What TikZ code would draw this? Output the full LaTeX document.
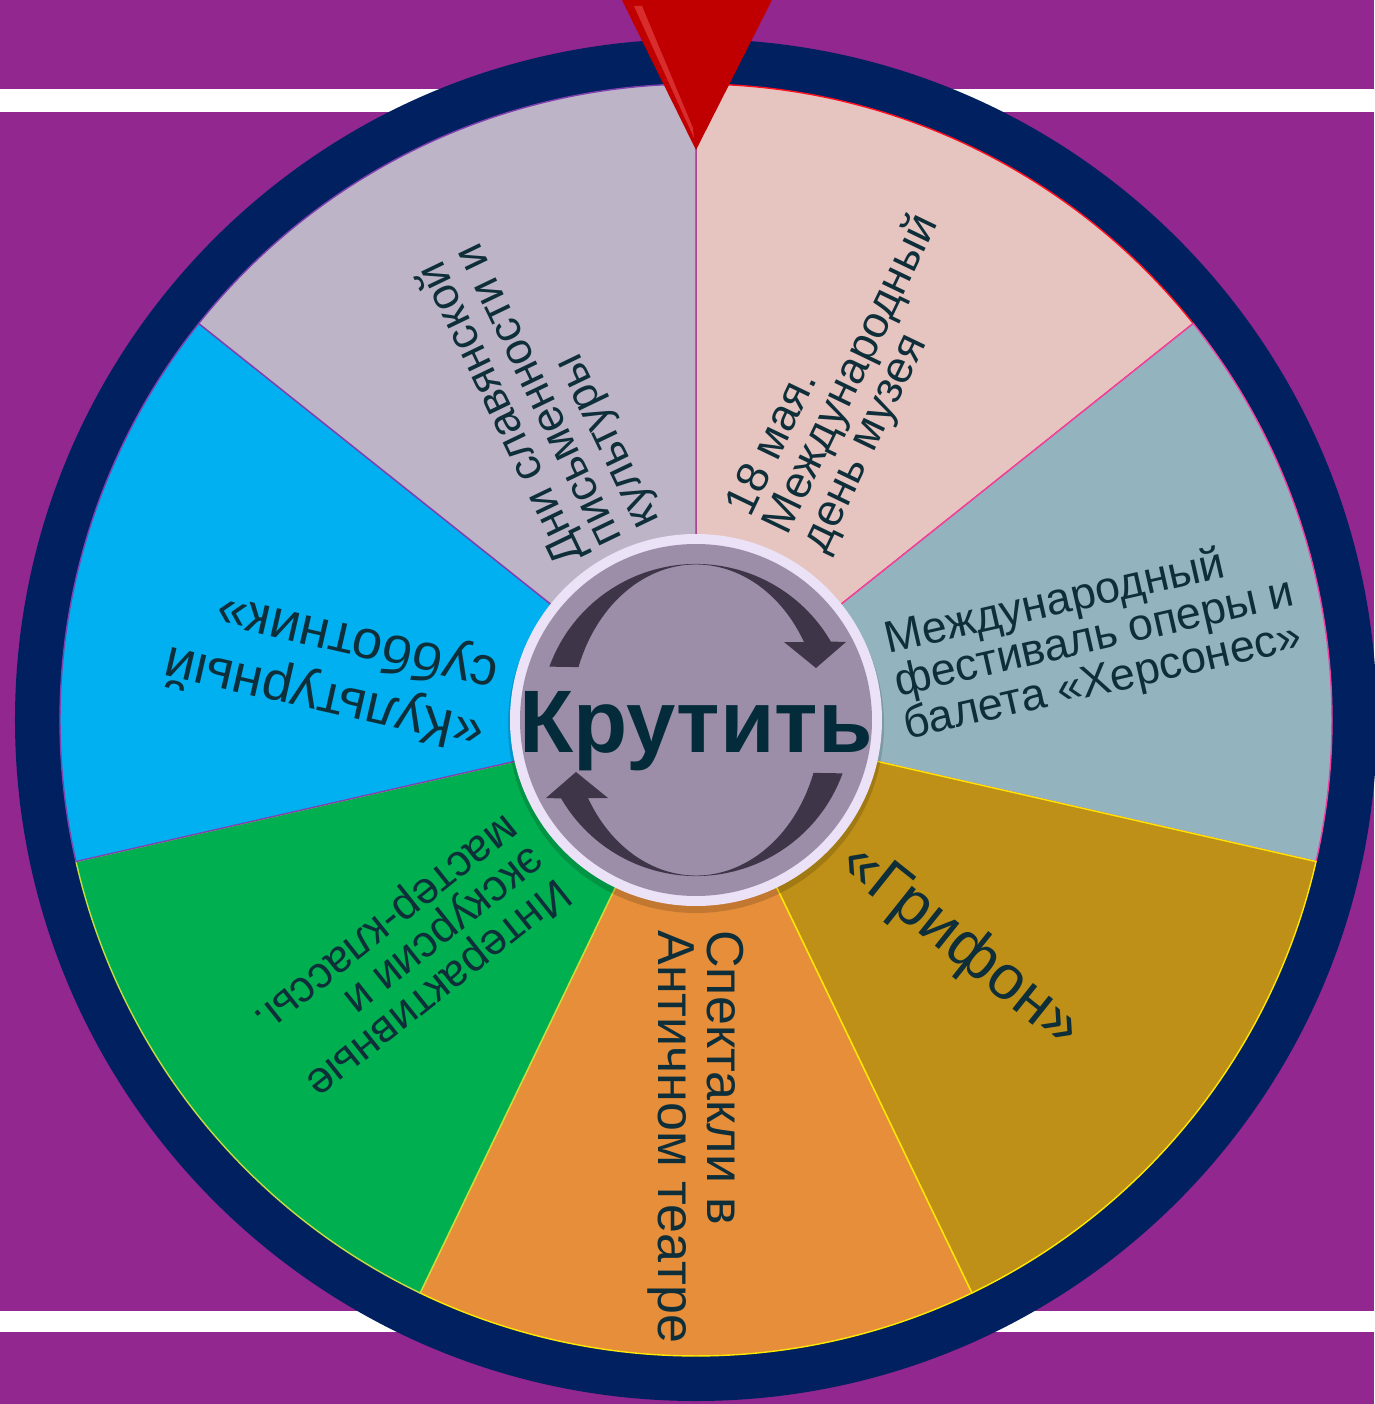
\documentclass[tikz,border=0pt]{standalone}
\usepackage{fontspec}
\setmainfont{Liberation Sans}
\usetikzlibrary{calc}

\definecolor{bgpurple}{HTML}{92278F}
\definecolor{rimnavy}{HTML}{002060}
\definecolor{segpink}{HTML}{E6C4C0}
\definecolor{segsteel}{HTML}{93B4BF}
\definecolor{seggold}{HTML}{BE9018}
\definecolor{segorange}{HTML}{E68E3A}
\definecolor{seggreen}{HTML}{00AF50}
\definecolor{segcyan}{HTML}{00B0F0}
\definecolor{seglilac}{HTML}{BDB5C7}
\definecolor{edgered}{HTML}{FF1020}
\definecolor{edgepink}{HTML}{F040A0}
\definecolor{edgeyellow}{HTML}{FFE800}
\definecolor{edgelime}{HTML}{C8DC40}
\definecolor{edgeviolet}{HTML}{8040B0}
\definecolor{hubfill}{HTML}{9C8EA8}
\definecolor{hubrim}{HTML}{ECE2F8}
\definecolor{arrowdark}{HTML}{3E3648}
\definecolor{labeltext}{HTML}{0E2F3A}
\definecolor{spintext}{HTML}{042B3A}
\definecolor{pointerred}{HTML}{C00000}
\definecolor{pointerhi}{HTML}{D92C2C}

\begin{document}
\begin{tikzpicture}[x=0.02cm, y=0.02cm,
    sector/.style={line width=0.8pt},
    segtext/.style={text=labeltext, align=left, inner sep=0pt, anchor=west,
        font=\fontsize{25.5}{23.6}\selectfont},
    spinarrow/.style={fill=arrowdark}
]

% Background and stripes
\fill[bgpurple] (-696,-684) rectangle (678,720);
\useasboundingbox (-696,-684) rectangle (678,720);
\fill[white] (-696,608) rectangle (678,631);
\fill[white] (-696,-612) rectangle (678,-591);

% Navy rim
\fill[rimnavy] (0,0) circle[radius=681];

% Sectors
\foreach \a/\b/\c/\e in {38.57/90/segpink/edgered,
    -12.86/38.57/segsteel/edgepink,
    -64.29/-12.86/seggold/edgeyellow,
    -115.71/-64.29/segorange/edgeyellow,
    -167.14/-115.71/seggreen/edgelime,
    141.43/192.86/segcyan/edgeviolet,
    90/141.43/seglilac/edgeviolet}
{
    \filldraw[sector, fill=\c, draw=\e] (0,0) -- (\a:636) arc[start angle=\a, end angle=\b, radius=636] -- cycle;
}

% Hub
\fill[black, opacity=0.15] (0,-5) circle[radius=188];
\fill[hubrim] (0,0) circle[radius=186];
\fill[hubfill] (0,0) circle[radius=176];

% Spin arrows
\fill[spinarrow] (160:156) arc[start angle=160, end angle=30.2, radius=156]
    -- (150,78) -- (120,52) -- (88,78) -- (108,78)
    arc[start angle=30.2, end angle=160, x radius=125, y radius=156] -- cycle;
\begin{scope}[rotate=180]
\fill[spinarrow] (160:156) arc[start angle=160, end angle=30.2, radius=156]
    -- (150,78) -- (120,52) -- (88,78) -- (108,78)
    arc[start angle=30.2, end angle=160, x radius=125, y radius=156] -- cycle;
\end{scope}

% Spin label
\node[font=\fontsize{50.5}{50}\selectfont\bfseries, text=spintext, anchor=base, inner sep=0pt] (spin) at (0,-32) {Крутить};

% Segment labels
\node[segtext, rotate=64.29] (museum) at ($(64.29:205)+(154.29:8)$) {18 мая.\\Международный\\день музея};
\node[segtext, rotate=12.86] (festival) at ($(12.86:202)+(-77.14:10)$) {Международный\\фестиваль оперы и\\балета «Херсонес»};
\node[segtext, rotate=-38.57, font=\fontsize{35.5}{33}\selectfont] (grifon) at ($(-38.57:203)+(-128.57:12)$) {«Грифон»};
\node[segtext, rotate=-90, font=\fontsize{29.6}{27.9}\selectfont] (theatre) at (-90:210) {Спектакли в\\Античном театре};
\node[segtext, rotate=-141.43] (excursion) at ($(-141.43:207)+(-51.43:6)$) {Интерактивные\\экскурсии и\\мастер-классы.};
\node[segtext, rotate=167.14, font=\fontsize{31}{35}\selectfont] (subbotnik) at ($(167.14:204)+(257.14:30)$) {«Культурный\\субботник»};
\node[segtext, rotate=115.71] (slavic) at (115.71:195) {Дни славянской\\письменности и\\культуры};

% Pointer
\fill[pointerred] (-74,720) -- (76,720) -- (0,570) -- cycle;
\fill[pointerhi] (-62,714) -- (-54,714) -- (-3,592) -- (-2,582) -- cycle;

\end{tikzpicture}
\end{document}
